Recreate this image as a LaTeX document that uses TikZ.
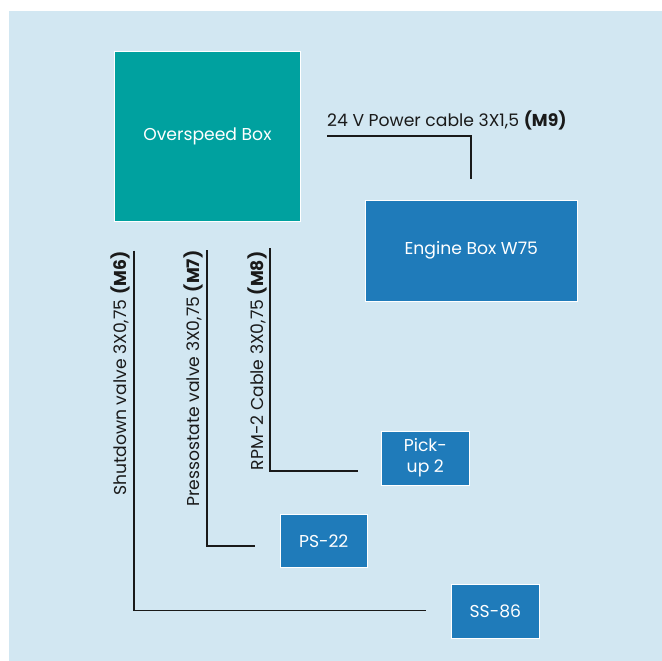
\documentclass[tikz,border=0pt]{standalone}
\usepackage{fontspec}
\setmainfont{Poppins}
\definecolor{bgblue}{HTML}{D2E7F2}
\definecolor{teal}{HTML}{00A19F}
\definecolor{boxblue}{HTML}{1F7BBA}
\definecolor{wire}{HTML}{1A1A1A}
\begin{document}
\begin{tikzpicture}[x=1pt,y=-1pt,
  box/.style={draw=white, line width=0.8pt, text=white, inner sep=0pt,
    font=\fontsize{17.2}{21}\selectfont, align=center},
  tealbox/.style={box, fill=teal},
  bluebox/.style={box, fill=boxblue},
  cable/.style={draw=wire, line width=1.7pt},
  lbl/.style={inner sep=0pt, text=wire, font=\fontsize{17.2}{20}\selectfont}]
\useasboundingbox (0,0) rectangle (662,661);
\fill[bgblue] (9,11) rectangle (662,661);

\node[tealbox, minimum width=186.7pt, minimum height=170pt] (over) at (207.4,136) {Overspeed Box};
\node[bluebox, minimum width=212.7pt, minimum height=101pt] (engine) at (471.3,250.5) {Engine Box W75};
\node[bluebox, minimum width=87.3pt, minimum height=54pt] (pick) at (425.3,458) {Pick-\\up 2};
\node[bluebox, minimum width=87.3pt, minimum height=53.4pt] (ps) at (323.7,541) {PS-22};
\node[bluebox, minimum width=87.3pt, minimum height=53.7pt] (ss) at (495.3,611.2) {SS-86};

% cable end points
\coordinate (m9a) at (327,136);
\coordinate (m9b) at (470.7,179);
\coordinate (m6a) at (134.3,250.5);
\coordinate (m6b) at (425.7,610.5);
\coordinate (m7a) at (207,250);
\coordinate (m7b) at (255,545.7);
\coordinate (m8a) at (270,248);
\coordinate (m8b) at (358,471);

\draw[cable] (m9a) -| (m9b);
\draw[cable] (m6a) |- (m6b);
\draw[cable] (m7a) |- (m7b);
\draw[cable] (m8a) |- (m8b);

\node[lbl, anchor=base west] (l9) at (327,127) {24 V Power cable 3X1,5 \textbf{(M9)}};
\node[lbl, rotate=90, anchor=base east] (l6) at (126.5,251.5) {Shutdown valve 3X0,75 \textbf{(M6)}};
\node[lbl, rotate=90, anchor=base east] (l7) at (199,250.5) {Pressostate valve 3X0,75 \textbf{(M7)}};
\node[lbl, rotate=90, anchor=base east] (l8) at (263,251.5) {RPM-2 Cable 3X0,75 \textbf{(M8)}};
\end{tikzpicture}
\end{document}
